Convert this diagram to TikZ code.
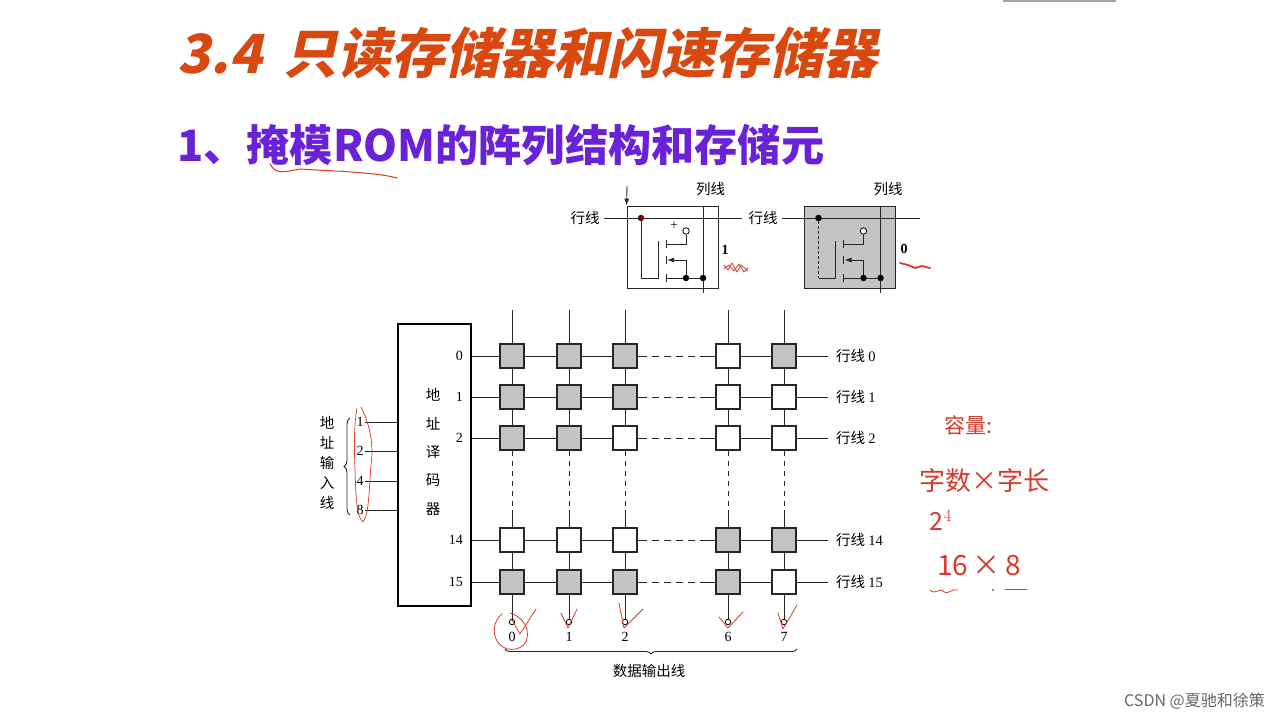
\documentclass[tikz,border=0pt]{standalone}
\usepackage{fontspec}
\usepackage{xcolor}
\setmainfont{Liberation Serif}
\newfontfamily\cjk{Noto Sans CJK SC}
\newfontfamily\titlefont[BoldFeatures={FakeSlant=0.22}]{Noto Sans CJK SC}
\newfontfamily\subfont{Noto Sans CJK SC}
\usetikzlibrary{
    arrows.meta,
    positioning,
    decorations.pathreplacing,
    calc
}
\definecolor{titlered}{HTML}{D9480F}
\definecolor{subviolet}{HTML}{6A22D8}
\definecolor{inkred}{HTML}{D8392B}
\definecolor{cellgray}{HTML}{C4C4C4}
\tikzset{
    wire/.style={
        draw=black!85,
        line width=0.9pt
    },
    cellbox/.style={
        rectangle,
        draw=black!85,
        line width=1.1pt,
        minimum size=24pt,
        inner sep=0pt
    },
    bitlabel/.style={
        font=\fontsize{14}{14}\selectfont,
        inner sep=1pt
    },
    rowlabel/.style={
        font=\cjk\fontsize{14.5}{14.5}\selectfont,
        anchor=west,
        inner sep=0pt
    },
    vlabel/.style={
        font=\cjk\fontsize{14.5}{20}\selectfont,
        align=center,
        inner sep=0pt
    },
    junction/.style={
        circle,
        fill=black,
        minimum size=6.5pt,
        inner sep=0pt
    },
    pin/.style={
        circle,
        draw=black,
        fill=white,
        line width=0.8pt,
        minimum size=6.5pt,
        inner sep=0pt
    },
    ink/.style={
        draw=inkred,
        line width=0.8pt,
        line cap=round,
        line join=round
    },
    inktext/.style={
        text=inkred,
        inner sep=0pt
    }
}
\begin{document}
\begin{tikzpicture}[x=1pt,y=-1pt]
\useasboundingbox[fill=white] (0,0) rectangle (1280,720);
\fill[black!35] (1003,0) rectangle (1116,2);

% headings
\node[anchor=west, inner sep=0pt, text=titlered, font=\titlefont\bfseries\fontsize{54}{54}\selectfont] (title) at (177,53) {3.4 \,只读存储器和闪速存储器};
\node[anchor=west, inner sep=0pt, text=subviolet, font=\subfont\bfseries\fontsize{43.2}{43.2}\selectfont] (subtitle) at (177,145) {1、掩模ROM的阵列结构和存储元};

% the two storage cells
\foreach \n/\dx/\cellfill/\dotcolor/\stub in {A/0/white/red!45!black/solid, B/177.5/cellgray/black/densely dashed} {
\begin{scope}[xshift=\dx pt]
\node[cellbox, line width=0.9pt, fill=\cellfill, minimum width=91pt, minimum height=82pt] (cell\n) at (672.5,247) {};
\coordinate (left\n) at (604,218);
\coordinate (right\n) at (742,218);
\coordinate (top\n) at (703,206);
\coordinate (bot\n) at (703,293);
\draw[wire] (left\n) -- (right\n);
\draw[wire] (top\n) -- (bot\n);
\node[junction, fill=\dotcolor] (gate\n) at (641,218) {};
\node[pin] (vdd\n) at (686,231) {};
\node[junction] (src\n) at (686,278) {};
\node[junction] (out\n) at (703,278) {};
\coordinate (corner\n) at (641,278);
\draw[wire, \stub] (gate\n) -- (corner\n);
\draw[wire] (corner\n) -- (658,278) -- (658,241);
\draw[wire] (666,240) -- (666,248) (666,256) -- (666,264) (666,274) -- (666,282);
\draw[wire] (666,244) -- (686,244) -- (vdd\n);
\draw[wire, -{Latex[length=7pt,width=5pt]}] (src\n) -- (686,260) -- (667,260);
\draw[wire] (666,278) -- (src\n) -- (out\n);
\node[font=\cjk\fontsize{14.5}{14.5}\selectfont, inner sep=0pt] (col\n) at (710.5,189) {列线};
\end{scope}
}
\node[font=\cjk\fontsize{14.5}{14.5}\selectfont, inner sep=0pt] (rowA) at (585,218) {行线};
\node[font=\cjk\fontsize{14.5}{14.5}\selectfont, inner sep=0pt] (rowB) at (763,218) {行线};
\node[font=\fontsize{13}{13}\selectfont, inner sep=0pt] (plus) at (674,226) {+};
\coordinate (sel) at (627,186);
\draw[wire, -{Latex[length=7pt,width=5pt]}] (sel) -- (cellA.north west);
\node[font=\bfseries\fontsize{14}{14}\selectfont, inner sep=0pt] (bitA) at (725,250) {1};
\node[font=\bfseries\fontsize{14}{14}\selectfont, inner sep=0pt] (bitB) at (904,249) {0};

% decoder
\node[draw=black, line width=2pt, minimum width=73pt, minimum height=282pt, inner sep=0pt] (dec) at (434.5,465) {};
\node[vlabel, font=\cjk\fontsize{14.5}{28.3}\selectfont] (declabel) at (433,452) {地\\址\\译\\码\\器};

% memory array
\foreach \r/\y/\a/\b/\c/\d/\e in {0/356/cellgray/cellgray/cellgray/white/cellgray,
                                  1/397/cellgray/cellgray/cellgray/white/white,
                                  2/438/cellgray/cellgray/white/white/white,
                                  14/540/white/white/white/cellgray/cellgray,
                                  15/582/cellgray/cellgray/cellgray/cellgray/white} {
    \node[rowlabel] (line\r) at (836,\y) {行线 {\rmfamily\r}};
    \draw[wire] (dec.east |- 0,\y) -- (640,\y);
    \draw[wire, dash pattern=on 7pt off 5pt] (640,\y) -- (705,\y);
    \draw[wire] (705,\y) -- (828,\y);
    \node[bitlabel, anchor=east] (dec\r) at (464,\y) {\r};
    \node[cellbox, fill=\a] (c\r-0) at (512,\y) {};
    \node[cellbox, fill=\b] (c\r-1) at (569,\y) {};
    \node[cellbox, fill=\c] (c\r-2) at (625,\y) {};
    \node[cellbox, fill=\d] (c\r-6) at (728,\y) {};
    \node[cellbox, fill=\e] (c\r-7) at (784,\y) {};
}
\foreach \k/\x in {0/512, 1/569, 2/625, 6/728, 7/784} {
    \coordinate (head\k) at (\x,310);
    \node[pin, minimum size=5.5pt] (bit\k) at (\x,622) {};
    \node[bitlabel] (num\k) at (\x,637) {\k};
    \coordinate (mid\k) at (\x,510);
    \draw[wire] (head\k) -- (c0-\k);
    \draw[wire] (c0-\k) -- (c1-\k);
    \draw[wire] (c1-\k) -- (c2-\k);
    \draw[wire, line width=1pt, dash pattern=on 5pt off 5pt] (c2-\k) -- (mid\k);
    \draw[wire] (mid\k) -- (c14-\k);
    \draw[wire] (c14-\k) -- (c15-\k);
    \draw[wire] (c15-\k) -- (bit\k);
}

% data output brace
\coordinate (bl) at (505,649);
\coordinate (br) at (797,649);
\draw[wire, line width=0.9pt, decorate, decoration={brace, mirror, amplitude=5pt}] (bl) -- (br);
\node[font=\cjk\fontsize{14.5}{14.5}\selectfont, inner sep=0pt] (dataout) at (649,671) {数据输出线};

% address inputs
\foreach \v/\y in {1/422, 2/451, 4/481, 8/510} {
    \node[bitlabel] (addr\v) at (360,\y) {\v};
    \draw[wire] (addr\v) -- (addr\v -| dec.west);
}
\coordinate (bt) at (350,418);
\coordinate (bb) at (350,515);
\draw[wire, line width=0.9pt, decorate, decoration={brace, mirror, amplitude=6pt}] (bt) -- (bb);
\node[vlabel] (addrlabel) at (327,463) {地\\址\\输\\入\\线};

% pen marks
\draw[ink, line width=1pt] (270,164) .. controls (276,175) and (284,172) .. (300,169) .. controls (330,171) and (375,172) .. (397,178);
\draw[ink, line width=0.7pt] (361,407) .. controls (370,425) and (374,445) .. (371,465) .. controls (369,490) and (369,515) .. (363,522) .. controls (356,517) and (356,495) .. (355,470) .. controls (354,445) and (354,425) .. (357,408);
\draw[ink] (502,614) .. controls (494,620) and (492,632) .. (497,641) .. controls (503,652) and (520,652) .. (526,642) .. controls (530,632) and (526,618) .. (510,613);
\draw[ink] (512,620) -- (520,634) -- (536,609);
\draw[ink] (561,613) -- (568,628) -- (577,609);
\draw[ink] (619,603) -- (624,628) -- (643,609);
\draw[ink] (719,617) -- (728,628) -- (743,612);
\draw[ink] (778,613) -- (783,629) -- (797,605);
\draw[ink] (724,265) -- (728,270) -- (732,263) -- (737,272) -- (741,265) -- (748,271);
\draw[ink] (724,269) -- (729,265) -- (734,271) -- (739,264) -- (744,272) -- (748,268);
\draw[ink, line width=1.8pt] (900,263) -- (908,265) -- (915,268) -- (922,266) -- (930,268);

% capacity notes
\node[inktext, font=\cjk\fontsize{21}{21}\selectfont] (capnote) at (968,425) {容量:};
\node[inktext, font=\cjk\fontsize{26}{26}\selectfont] (capform) at (984,481) {字数×字长};
\node[inktext, font=\cjk\fontsize{25}{25}\selectfont] (pow) at (941,520) {2$^{4}$};
\node[inktext, font=\cjk\fontsize{28}{28}\selectfont] (size) at (979,566) {16\,×\,8};
\draw[ink] (930,590) .. controls (936,596) and (940,586) .. (944,592) .. controls (948,595) and (952,588) .. (958,590);
\draw[ink] (1005,589) -- (1027,589);
\fill[inkred] (993,590) circle (1.2pt);

\node[anchor=east, inner sep=0pt, text=black!60, font=\cjk\fontsize{16}{16}\selectfont] (mark) at (1265,701) {CSDN @夏驰和徐策};
\end{tikzpicture}
\end{document}
